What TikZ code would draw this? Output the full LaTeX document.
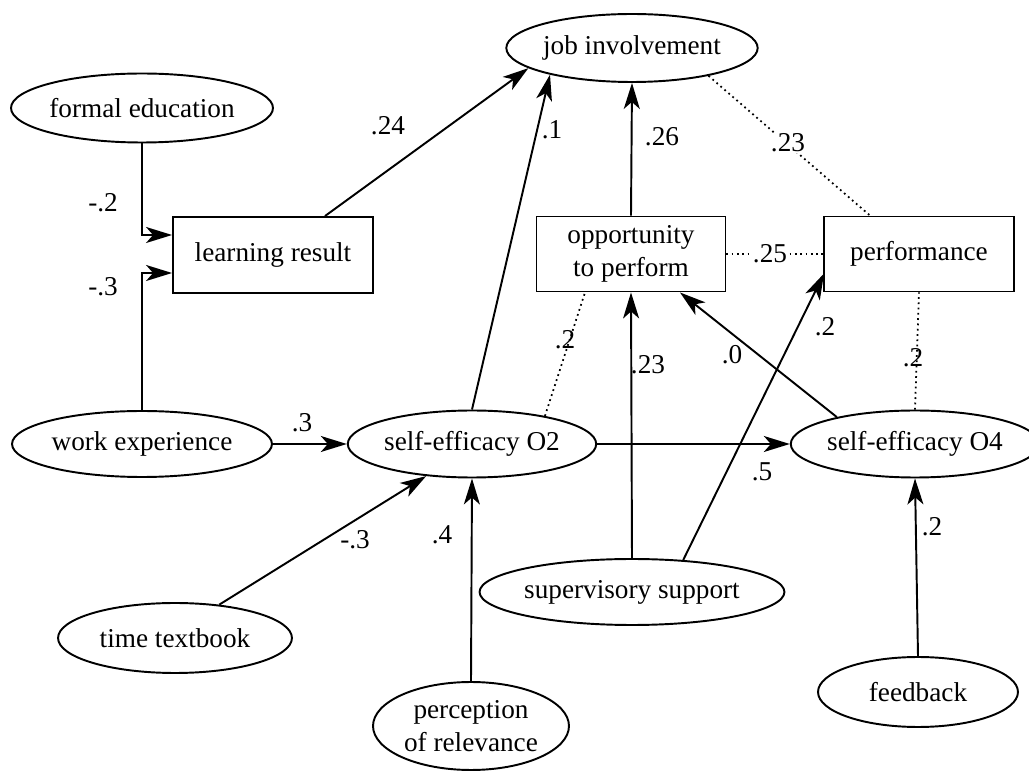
\documentclass[tikz,border=0pt]{standalone}
\usepackage{fontspec}
\setmainfont{Liberation Serif}
\usetikzlibrary{shapes.geometric,arrows.meta,calc}

\tikzset{
  every node/.style={font=\fontsize{15.5}{18.5}\selectfont},
  oval/.style={ellipse, draw, line width=1.1pt, inner sep=0pt, align=center},
  boxnode/.style={rectangle, draw, line width=1.1pt, inner sep=0pt, align=center},
  arr/.style={line width=1.1pt, -{Stealth[length=0.52cm, width=0.32cm, inset=0.14cm]}},
  corr/.style={line width=1pt, dotted},
  coef/.style={inner sep=0.5pt},
  coefw/.style={inner sep=0.5pt, fill=white},
}

\begin{document}
\begin{tikzpicture}[x=0.02cm, y=-0.02cm]
  \useasboundingbox (0,0) rectangle (1029,773);

  % variables
  \node[oval, minimum width=4.52cm, minimum height=1.36cm] (job) at (632,48) {job involvement};
  \node[oval, minimum width=5.16cm, minimum height=1.38cm] (fe)  at (142,108) {formal education};
  \node[boxnode, minimum width=4.00cm, minimum height=1.52cm] (lr) at (273,255) {learning result};
  \node[boxnode, minimum width=3.78cm, minimum height=1.50cm] (opp) at (631,254) {opportunity\\to perform};
  \node[boxnode, minimum width=3.80cm, minimum height=1.50cm] (perf) at (919,254) {performance};
  \node[oval, minimum width=5.20cm, minimum height=1.32cm] (we)  at (142,444) {work experience};
  \node[oval, minimum width=4.24cm, minimum height=1.34cm] (se2) at (472,444) {self-efficacy O2};
  \node[oval, minimum width=4.32cm, minimum height=1.34cm] (se4) at (915,444) {self-efficacy O4};
  \node[oval, minimum width=5.36cm, minimum height=1.32cm] (ss)  at (632,592) {supervisory support};
  \node[oval, minimum width=4.68cm, minimum height=1.40cm] (tt)  at (175,638) {time textbook};
  \node[oval, minimum width=4.00cm, minimum height=1.40cm] (fb)  at (918,692) {feedback};
  \node[oval, minimum width=3.92cm, minimum height=1.76cm] (pr)  at (471,726) {perception\\of relevance};

  % paths
  \draw[arr] (fe.south) |- ($(lr.west)+(0,-20)$);
  \draw[arr] (we.north) |- ($(lr.west)+(0,18)$);
  \draw[arr] ($(lr.north)+(52,0)$) -- (job.191);
  \draw[arr] (se2.north) -- (job.198);
  \draw[arr] (opp.north) -- (job.south);
  \draw[arr] (we.east) -- (se2.west);
  \draw[arr] (tt.37) -- (se2.215);
  \draw[arr] (pr.north) -- (se2.south);
  \draw[arr] (se2.east) -- (se4.west);
  \draw[arr] (ss.north) -- (opp.south);
  \draw[arr] (ss.32) -- ($(perf.south west)+(1,-19)$);
  \draw[arr] (se4.161) -- ($(opp.south)+(49,0)$);
  \draw[arr] (fb.north) -- (se4.south);

  % correlations
  \draw[corr] (job.340) -- ($(perf.north)+(-49,0)$);
  \draw[corr] (opp.east) -- (perf.west);
  \draw[corr] (se2.21) -- ($(opp.south)+(-46,0)$);
  \draw[corr] (se4.north) -- (perf.south);

  % coefficients
  \node[coef] (c1)  at (103,203) {-.2};
  \node[coef] (c2)  at (103,287) {-.3};
  \node[coef] (c3)  at (388,126) {.24};
  \node[coef] (c4)  at (552,130) {.1};
  \node[coef] (c5)  at (662,137) {.26};
  \node[coefw] (c6) at (788,143) {.23};
  \node[coefw] (c7) at (770,254) {.25};
  \node[coef] (c8)  at (565,340) {.2};
  \node[coef] (c9)  at (648,365) {.23};
  \node[coef] (c10) at (732,355) {.0};
  \node[coef] (c11) at (825,327) {.2};
  \node[coef] (c12) at (913,358) {.2};
  \node[coef] (c13) at (302,423) {.3};
  \node[coef] (c14) at (762,472) {.5};
  \node[coef] (c15) at (355,540) {-.3};
  \node[coef] (c16) at (442,535) {.4};
  \node[coef] (c17) at (932,527) {.2};
\end{tikzpicture}
\end{document}
